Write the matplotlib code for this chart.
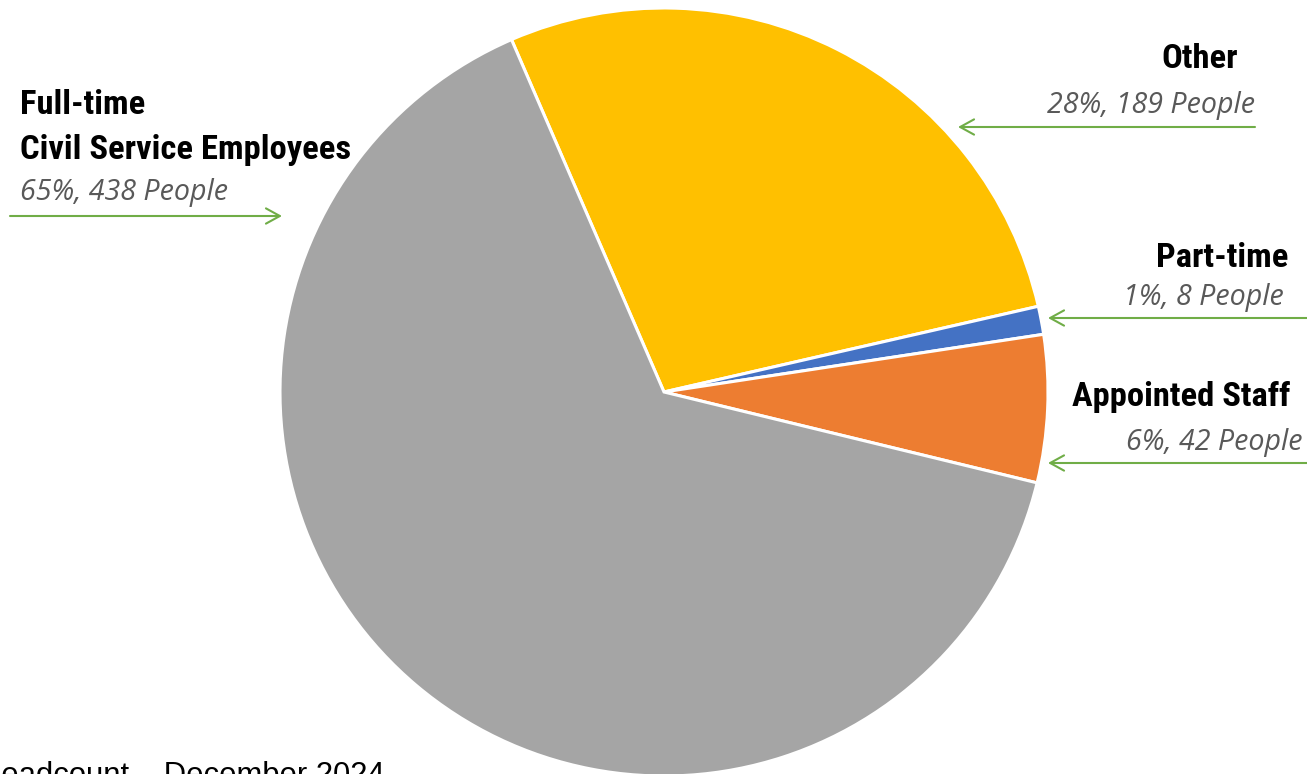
import matplotlib
matplotlib.use("Agg")
import matplotlib.pyplot as plt
from matplotlib import font_manager

# Headcount breakdown, December 2024
categories = ["Other", "Part-time", "Appointed Staff", "Full-time\nCivil Service Employees"]
people = [189, 8, 42, 438]
percents = ["28%", "1%", "6%", "65%"]
colors = ["#FFC000", "#4472C4", "#ED7D31", "#A5A5A5"]
title = "Headcount \u2013 December 2024"

W, H = 1307, 774
fig = plt.figure(figsize=(W / 100, H / 100), dpi=100)
ax = fig.add_axes([0, 0, 1, 1])

bold_fp = font_manager.FontProperties(family=["Roboto Condensed", "Roboto", "DejaVu Sans"],
                                      weight="bold", size=24.8)
ital_fp = font_manager.FontProperties(family=["Open Sans", "DejaVu Sans"], style="italic", size=20.6)


def py(y):
    # convert a top-down pixel row to the axes' bottom-up coordinate
    return H - y


ax.pie(people, colors=colors, startangle=113.4, counterclock=False,
       center=(664, py(392)), radius=384, frame=True,
       wedgeprops=dict(edgecolor="white", linewidth=2.2))
ax.set_xlim(0, W)
ax.set_ylim(0, H)
ax.set_aspect("equal", adjustable="box")
ax.axis("off")

label_kw = dict(fontproperties=bold_fp, color="black")
value_kw = dict(fontproperties=ital_fp, color="#595959")
arrow_kw = dict(arrowstyle="->,head_length=1.0,head_width=0.55", color="#70AD47", lw=1.5,
                shrinkA=0, shrinkB=0)


def value_text(i):
    return f"{percents[i]}, {people[i]} People"


# Other
ax.text(1238, py(68), categories[0], ha="right", va="baseline", **label_kw)
ax.text(1255, py(113), value_text(0), ha="right", va="baseline", **value_kw)
ax.annotate("", xy=(958, py(127)), xytext=(1255, py(127)), arrowprops=arrow_kw)

# Part-time
ax.text(1288, py(267), categories[1], ha="right", va="baseline", **label_kw)
ax.text(1284, py(305), value_text(1), ha="right", va="baseline", **value_kw)
ax.annotate("", xy=(1048, py(318)), xytext=(1310, py(318)), arrowprops=arrow_kw,
            annotation_clip=False)

# Appointed Staff
ax.text(1290, py(406), categories[2], ha="right", va="baseline", **label_kw)
ax.text(1303, py(450), value_text(2), ha="right", va="baseline", **value_kw)
ax.annotate("", xy=(1048, py(463)), xytext=(1310, py(463)), arrowprops=arrow_kw,
            annotation_clip=False)

# Full-time civil service employees
ax.text(20, py(159), categories[3], ha="left", va="baseline", linespacing=1.5, **label_kw)
ax.text(20, py(200), value_text(3), ha="left", va="baseline", **value_kw)
ax.annotate("", xy=(282, py(216)), xytext=(10, py(216)), arrowprops=arrow_kw)

# Chart title, partly below the figure edge
ax.text(-21, py(784), title, ha="left", va="baseline", fontsize=22.3,
        family=["Liberation Sans", "DejaVu Sans"], color="black", clip_on=False)

fig.savefig("out.png", dpi=100)
